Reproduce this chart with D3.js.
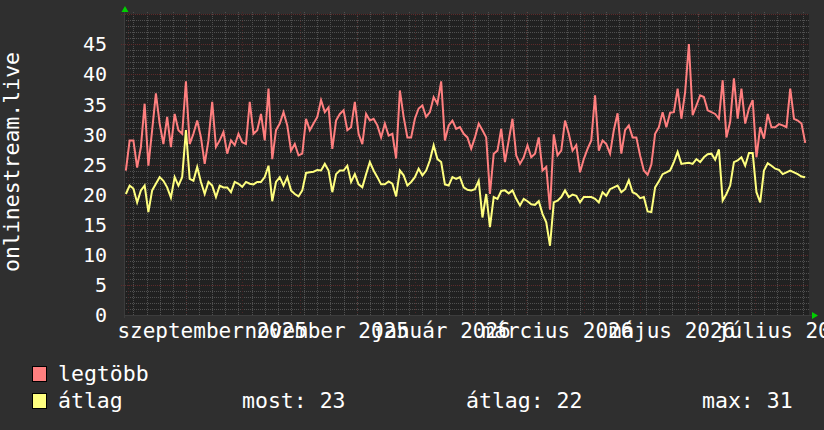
<!DOCTYPE html>
<html>
<head>
<meta charset="utf-8">
<script src="https://cdn.jsdelivr.net/npm/d3@7"></script>
<style>
  body { margin: 0; background: #2f2f2f; }
  svg { display: block; }
  text { font-family: "DejaVu Sans Mono", monospace; fill: #ffffff; }
</style>
</head>
<body>
<svg id="chart" width="824" height="430"></svg>
<script>
// time window shown, one point every 2 days
const windowStart = new Date(2025, 6, 30)
const windowEnd = new Date(2026, 6, 30)
const firstPoint = new Date(2025, 6, 31)
const stepDays = 2

const legtobb = [
    24, 29, 29, 24.5, 27.9, 35.1, 24.8, 30.7, 36.8, 31.8,
    28.4, 32.9, 27.9, 33.4, 30.7, 30.1, 38.8, 28.4, 30.1, 32.3,
    29.5, 25.1, 29, 35.4, 27.9, 29, 30.4, 26.8, 29, 28.2,
    30.1, 28.7, 28.4, 35.4, 30.1, 30.7, 33.4, 29, 37.6, 25.9,
    30.7, 31.8, 33.7, 31.5, 27.3, 28.4, 26.5, 26.8, 32.6, 30.7,
    31.8, 32.9, 35.7, 33.7, 34.5, 27.6, 32.3, 33.4, 34, 30.7,
    31.2, 35.4, 30.1, 28.4, 33.4, 32.3, 32.6, 31.5, 29.5, 31.8,
    29.8, 30.1, 26, 37.3, 32.9, 29.5, 29.5, 32.6, 34.3, 34.8,
    32.9, 33.7, 36.2, 35.1, 38.8, 29, 31.5, 32.3, 30.9, 31.2,
    30.1, 29.5, 27.6, 29.5, 31.8, 30.7, 29.5, 20.1, 26.8, 27.3,
    30.9, 25.4, 29, 32.6, 26.5, 25.1, 26.2, 28.2, 26.2, 26.8,
    29.5, 24, 24.6, 17.5, 30, 26.5, 27.3, 32.3, 30.1, 27.3,
    28.2, 23.7,
    25.9, 27.6, 29, 36.5, 27.3, 29, 28.4, 26.8, 30.7, 33.5,
    26.8, 30.7, 31.5, 29.5, 29.5, 26.5, 24, 23.3, 25, 30.1,
    31.2, 33.7, 31.2, 33.6, 33.7, 37.6, 32.6, 37, 45, 33.2,
    34.8, 36.5, 36.2, 34, 33.7, 33.4, 32.6, 39, 29.5, 32.1,
    39.3, 32.6, 37.6, 31.8, 34.3, 35.7, 26.2, 31.2, 29.3, 33.4,
    31.2, 31.2, 31.7, 31.5, 31.2, 37.6, 32.6, 32.3, 31.8, 28.6
]

const atlag = [
    20.1, 21.5, 21, 18.7, 20.7, 21.5, 17.1, 20.7, 21.8, 22.9,
    22.3, 21.2, 19.5, 22.9, 21.5, 22.9, 30.7, 22.6, 22.3, 24.6,
    22.1, 20.1, 22.1, 21.5, 19.6, 21.5, 21.2, 21.2, 20.4, 22.1,
    21.8, 21.3, 22.1, 21.8, 21.7, 22.1, 22.1, 22.9, 24.8, 18.9,
    22.1, 22.9, 21.5, 22.9, 20.7, 20.1, 19.7, 20.7, 23.6, 23.7,
    23.8, 24.1, 24, 25.1, 24, 20.4, 23.4, 24, 24, 24.8,
    22.1, 23.4, 21.7, 21.2, 23.4, 25.4, 24, 22.9, 21.7, 21.7,
    22.2, 21.8, 19.7, 24, 23.2, 21.5, 22.1, 22.9, 24.3, 23.2,
    24, 25.7, 28.2, 25.9, 25.4, 21.7, 21.5, 22.9, 22.6, 22.9,
    21.2, 20.8, 20.7, 20.9, 22.3, 16.2, 20.1, 14.6, 19.6, 19.3,
    20.6, 20.7, 20.2, 20.7, 19.3, 18.2, 19.3, 18.9, 18.4, 18.3,
    18.9, 16.8, 15.4, 11.5, 18.7, 19, 19.6, 20.7, 19.6, 20,
    19.8, 18.7,
    19.6, 19.6, 19.6, 19.3, 18.7, 20.4, 19.8, 20.9, 21.2, 21.5,
    20.4, 20.9, 22.4, 20.4, 20.1, 19.4, 19.6, 17.2, 17.1, 21.2,
    22.2, 23.4, 23.7, 24, 25.4, 27.1, 25.1, 25.2, 25.3, 25.1,
    25.9, 25.4, 26.2, 26.7, 26.8, 25.8, 27.5, 19, 20.1, 21.5,
    25.4, 25.7, 26.2, 24.8, 26.9, 26.9, 20.4, 18.7, 24, 25.2,
    24.8, 24.3, 24.1, 23.4, 23.7, 24, 23.7, 23.4, 23, 22.9
]

const yTicks = [0, 5, 10, 15, 20, 25, 30, 35, 40, 45]
const xLabelDates = ["2025-09-15", "2025-11-15", "2026-01-15", "2026-03-18", "2026-05-18", "2026-07-18"]
const xLabelTexts = ["szeptember 2025", "november 2025", "január 2026", "március 2026", "május 2026", "július 2026"]

const seriesNames = ["legtöbb", "átlag"]
const seriesColors = ["#ff7f7f", "#ffff7f"]
const statLabels = ["most: 23", "átlag: 22", "max: 31"]

// lay out
const layout = { left: 124, right: 809, top: 14, bottom: 315 }
const fontSize = 21

const svg = d3.select("#chart")

const xScale = d3.scaleTime()
    .domain([windowStart, windowEnd])
    .range([layout.left, layout.right])

const yScale = d3.scaleLinear()
    .domain([0, 50])
    .range([layout.bottom, layout.top])

const dates = legtobb.map((v, i) => d3.timeDay.offset(firstPoint, i * stepDays))

svg.append("rect")
    .attr("width", 824).attr("height", 430)
    .attr("fill", "#2f2f2f")

svg.append("rect")
    .attr("x", layout.left).attr("y", layout.top)
    .attr("width", layout.right - layout.left)
    .attr("height", layout.bottom - layout.top)
    .attr("fill", "#212121")

// grid: weekly / 1 unit minor, monthly / 5 units major
const grid = svg.append("g").attr("class", "grid")
const px = v => Math.round(v) + 0.5

const minorY = d3.range(0, 51).filter(v => v % 5 !== 0)
grid.selectAll("line.minor-y")
    .data(minorY)
    .join("line")
    .attr("class", "minor-y")
    .attr("x1", layout.left).attr("x2", layout.right)
    .attr("y1", d => px(yScale(d))).attr("y2", d => px(yScale(d)))
    .attr("stroke", "#505050")
    .attr("stroke-dasharray", "1,1")

const weeks = d3.timeMonday.range(windowStart, windowEnd)
grid.selectAll("line.minor-x")
    .data(weeks)
    .join("line")
    .attr("class", "minor-x")
    .attr("x1", d => px(xScale(d))).attr("x2", d => px(xScale(d)))
    .attr("y1", layout.top - 2).attr("y2", layout.bottom)
    .attr("stroke", "#505050")
    .attr("stroke-dasharray", "1,1")

const majorY = d3.range(5, 51, 5)
grid.selectAll("line.major-y")
    .data(majorY)
    .join("line")
    .attr("class", "major-y")
    .attr("x1", layout.left - 3).attr("x2", layout.right)
    .attr("y1", d => px(yScale(d))).attr("y2", d => px(yScale(d)))
    .attr("stroke", "#5e2a2a")
    .attr("stroke-dasharray", "1,1")

const months = d3.timeMonth.range(windowStart, windowEnd)
grid.selectAll("line.major-x")
    .data(months)
    .join("line")
    .attr("class", "major-x")
    .attr("x1", d => px(xScale(d))).attr("x2", d => px(xScale(d)))
    .attr("y1", layout.top - 2).attr("y2", layout.bottom + 3)
    .attr("stroke", "#4a2727")
    .attr("stroke-dasharray", "1,2")

// axes
svg.append("line")
    .attr("x1", layout.left).attr("x2", layout.right + 3)
    .attr("y1", layout.bottom + 0.5).attr("y2", layout.bottom + 0.5)
    .attr("stroke", "#3c3c3c")
svg.append("line")
    .attr("x1", layout.left + 0.5).attr("x2", layout.left + 0.5)
    .attr("y1", layout.top - 4).attr("y2", layout.bottom + 3)
    .attr("stroke", "#3c3c3c")

svg.append("path")
    .attr("d", `M${layout.left - 2.5},${layout.top - 2} L${layout.left + 1},${layout.top - 8} L${layout.left + 4.5},${layout.top - 2} Z`)
    .attr("fill", "#00d000")
svg.append("path")
    .attr("d", `M${layout.right + 3},${layout.bottom - 3} L${layout.right + 9},${layout.bottom + 0.5} L${layout.right + 3},${layout.bottom + 4} Z`)
    .attr("fill", "#00d000")

// series lines
const line = d3.line()
    .x((d, i) => xScale(dates[i]))
    .y(d => yScale(d))

svg.selectAll("path.series")
    .data([legtobb, atlag])
    .join("path")
    .attr("class", "series")
    .attr("d", line)
    .attr("fill", "none")
    .attr("stroke", (d, i) => seriesColors[i])
    .attr("stroke-width", 2)

// tick labels
svg.selectAll("text.ylab")
    .data(yTicks)
    .join("text")
    .attr("class", "ylab")
    .attr("x", 107)
    .attr("y", d => yScale(d))
    .attr("dy", "0.36em")
    .attr("text-anchor", "end")
    .attr("font-size", 20)
    .text(d => d)

const parseDay = d3.timeParse("%Y-%m-%d")
svg.selectAll("text.xlab")
    .data(xLabelDates)
    .join("text")
    .attr("class", "xlab")
    .attr("x", d => xScale(parseDay(d)))
    .attr("y", 338)
    .attr("text-anchor", "middle")
    .attr("font-size", fontSize)
    .text((d, i) => xLabelTexts[i])

svg.append("text")
    .attr("transform", "translate(19,162) rotate(-90)")
    .attr("text-anchor", "middle")
    .attr("font-size", 21.5)
    .text("onlinestream.live")

// legend
const legend = svg.append("g").attr("class", "legend")
legend.selectAll("rect")
    .data(seriesNames)
    .join("rect")
    .attr("x", 32.5)
    .attr("y", (d, i) => 366.5 + i * 27)
    .attr("width", 14).attr("height", 15)
    .attr("fill", (d, i) => seriesColors[i])
    .attr("stroke", "#000")
legend.selectAll("text.name")
    .data(seriesNames)
    .join("text")
    .attr("class", "name")
    .attr("x", 58)
    .attr("y", (d, i) => 381 + i * 27)
    .attr("font-size", 21.5)
    .text(d => d)
legend.selectAll("text.stat")
    .data(statLabels)
    .join("text")
    .attr("class", "stat")
    .attr("x", (d, i) => [242, 466, 702][i])
    .attr("y", 408)
    .attr("font-size", 21.5)
    .text(d => d)
</script>
</body>
</html>
